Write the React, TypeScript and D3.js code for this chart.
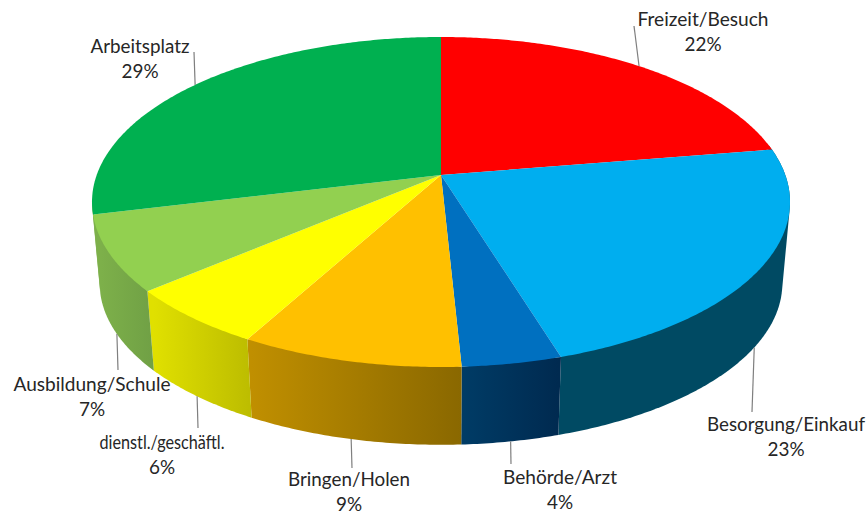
import React from 'react';
import * as d3 from 'd3';

const categories = ['Freizeit/Besuch', 'Besorgung/Einkauf', 'Behörde/Arzt', 'Bringen/Holen', 'dienstl./geschäftl.', 'Ausbildung/Schule', 'Arbeitsplatz'];
// slice sizes, the printed labels are rounded
const shares = [22.4, 22.85, 3.95, 8.8, 5.8, 7.4, 28.8];
const percentLabels = ['22%', '23%', '4%', '9%', '6%', '7%', '29%'];
const topColors = ['#ff0000', '#00aeef', '#0070c0', '#ffc000', '#ffff00', '#92d050', '#00b050'];
// wall colours, left end and right end of each slice
const sideLeft = ['#800000', '#004a63', '#003c66', '#c08f00', '#e0e000', '#7db04a', '#7db04a'];
const sideRight = ['#800000', '#004a63', '#002a50', '#8a6800', '#bcbc00', '#70a045', '#7db04a'];

// label centre x, first line y, width of first line, leader end
const labelX = [703, 786, 560, 349, 162, 92, 140];
const labelY = [26, 431, 484, 486, 449, 391, 53];
const labelWidth = [131, 158, 114, 122, 125, 157, 99];
const leaderEnd: [number, number][] = [[634, 26], [752, 412], [511, 464], [352, 468], [198, 428], [118, 370], [194, 52]];

const width = 868;
const height = 515;

// perspective projection of the pie disc
const cx = 441;
const topY = 175;
const bottomY = 257;
const radiusX = 344.3;
const radiusY = 160.6;
const persp = -0.1636;
const bottomScale = 0.978;

const project = (a: number, cy: number, s: number): [number, number] => {
  const u = Math.sin(a);
  const v = -Math.cos(a);
  const w = 1 + persp * v;
  return [cx + (s * radiusX * u) / w, cy + (s * radiusY * v) / w];
};

const angleSteps = (a0: number, a1: number) => {
  const n = Math.max(2, Math.ceil((a1 - a0) / 0.01));
  return d3.range(n + 1).map((i) => a0 + ((a1 - a0) * i) / n);
};

const line = d3.line();

// the wall is only seen on the front of the disc
const wallStart = (79 * Math.PI) / 180;
const wallEnd = (262 * Math.PI) / 180;

// hull of both rims, so the outline follows the tangent between the rings
const wallPath = (a0: number, a1: number) => {
  const steps = angleSteps(a0, a1);
  const pts = [...steps.map((a) => project(a, topY, 1)), ...steps.map((a) => project(a, bottomY, bottomScale))];
  return line(d3.polygonHull(pts) as [number, number][]) + 'Z';
};

const App = () => {
  const slices = d3.pie<number>().sort(null).startAngle(0).endAngle(2 * Math.PI)(shares);

  return (
    <svg width={width} height={height} style={{ position: 'absolute', left: 0, top: 0, background: '#fff' }}>
      <defs>
        {slices.map((d, i) => {
          const a0 = Math.max(d.startAngle, wallStart);
          const a1 = Math.min(d.endAngle, wallEnd);
          if (a1 <= a0) return null;
          return (
            <linearGradient key={i} id={`wall-${i}`} gradientUnits="userSpaceOnUse" x1={project(a1, bottomY, bottomScale)[0]} x2={project(a0, bottomY, bottomScale)[0]} y1={0} y2={0}>
              <stop offset="0" stopColor={sideLeft[i]} />
              <stop offset="1" stopColor={sideRight[i]} />
            </linearGradient>
          );
        })}
      </defs>

      {slices.map((d, i) => {
        const a0 = Math.max(d.startAngle, wallStart);
        const a1 = Math.min(d.endAngle, wallEnd);
        if (a1 <= a0) return null;
        return <path key={i} d={wallPath(a0, a1)} fill={`url(#wall-${i})`} />;
      })}

      {slices.map((d, i) => {
        const rim = angleSteps(d.startAngle, d.endAngle).map((a) => project(a, topY, 1));
        const pts: [number, number][] = [[cx, topY], ...rim];
        return <path key={i} d={line(pts) + 'Z'} fill={topColors[i]} />;
      })}

      {slices.map((d, i) => {
        const mid = (d.startAngle + d.endAngle) / 2;
        const front = Math.cos(mid) < 0;
        const p = front ? project(mid, bottomY, bottomScale) : project(mid, topY, 1);
        return <line key={i} x1={p[0]} y1={p[1]} x2={leaderEnd[i][0]} y2={leaderEnd[i][1]} stroke="#7f7f7f" strokeWidth={1.2} />;
      })}

      <g fontFamily="Lato, sans-serif" fontSize={18.9} fill="#262626" textAnchor="middle">
        {categories.map((c, i) => (
          <g key={c}>
            <text x={labelX[i]} y={labelY[i]} textLength={labelWidth[i]} lengthAdjust="spacingAndGlyphs">{c}</text>
            <text x={labelX[i]} y={labelY[i] + 25}>{percentLabels[i]}</text>
          </g>
        ))}
      </g>
    </svg>
  );
};

export default App;
